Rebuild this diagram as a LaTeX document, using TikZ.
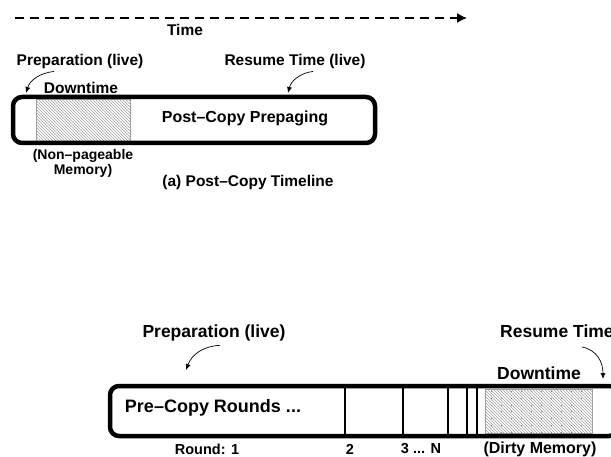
\documentclass[tikz,border=0pt]{standalone}
\usepackage{fontspec}
\setmainfont{Liberation Sans}
\usetikzlibrary{patterns,arrows.meta}
\tikzset{
  lbl/.style={font=\bfseries\fontsize{15.5}{17}\selectfont, inner sep=0pt},
  biglbl/.style={font=\bfseries\fontsize{17.5}{20}\selectfont, inner sep=0pt},
  smalllbl/.style={font=\bfseries\fontsize{14}{15}\selectfont, inner sep=0pt, align=center},
  bar/.style={line width=4.5pt, rounded corners=9pt},
  divider/.style={line width=2.2pt},
  hatch/.style={pattern=north west lines, pattern color=gray!75, draw=gray!75, line width=0.6pt},
  pointer/.style={-{Latex[length=6pt,width=5pt]}, line width=0.7pt},
}
\begin{document}
\begin{tikzpicture}[x=1pt,y=-1pt]
    \useasboundingbox (0,0) rectangle (611,457);
    \clip (0,0) rectangle (611,457);
    % time axis
    \coordinate (t0) at (15,18);
    \coordinate (t1) at (467,18);
    \draw[dash pattern=on 9pt off 6pt, line width=1.4pt, -{Latex[length=10pt,width=10pt]}] (t0) -- (t1);
    \node[lbl] (time) at (185,30) {Time};

    % (a) post-copy
    \node[lbl] (prepA) at (80,61) {Preparation (live)};
    \node[lbl] (downA) at (81,88) {Downtime};
    \node[lbl] (resA) at (295,61) {Resume Time (live)};
    \coordinate (prepAend) at (26,93);
    \coordinate (resAend) at (288,93);
    \draw[pointer] ([xshift=-26pt,yshift=-3pt]prepA.south) .. controls (40,73) and (30,80) .. (prepAend);
    \draw[pointer] ([xshift=18pt,yshift=-3pt]resA.south) .. controls (300,73) and (291,81) .. (resAend);
    \coordinate (hA0) at (36,99);
    \coordinate (hA1) at (130,141);
    \draw[hatch] (hA0) rectangle (hA1);
    \coordinate (boxA0) at (13,97);
    \coordinate (boxA1) at (375,143);
    \draw[bar] (boxA0) rectangle (boxA1);
    \node[lbl, font=\bfseries\fontsize{16}{18}\selectfont] (postcopy) at (245,118) {Post--Copy Prepaging};
    \node[smalllbl] (nonpage) at (83,163) {(Non--pageable\\Memory)};
    \node[lbl] (capA) at (248,182) {(a) Post--Copy Timeline};

    % (b) pre-copy
    \node[biglbl] (prepB) at (214,333) {Preparation (live)};
    \node[biglbl, anchor=west] (resB) at (500,333) {Resume Time (live)};
    \node[biglbl] (downB) at (539,373) {Downtime};
    \coordinate (prepBend) at (186,370);
    \coordinate (resBend) at (603,379);
    \draw[pointer] ([xshift=6pt,yshift=-4pt]prepB.south) .. controls (204,346) and (192,354) .. (prepBend);
    \draw[pointer] (582,347) .. controls (597,350) and (603,362) .. (resBend);
    \coordinate (hB0) at (485,389);
    \coordinate (hB1) at (592,433);
    \draw[hatch] (hB0) rectangle (hB1);
    \foreach \x in {491,501,...,586}
        \draw[gray, line width=0.7pt, dash pattern=on 0.8pt off 6pt] (\x,391) -- (\x,432);
    \coordinate (boxB0) at (110,386);
    \coordinate (boxB1) at (618,436);
    \foreach \x in {345,403,448,467,477}
        \draw[divider] (\x,386) -- (\x,436);
    \draw[bar] (boxB0) rectangle (boxB1);
    \node[biglbl, font=\bfseries\fontsize{18}{20}\selectfont] (precopy) at (213,408) {Pre--Copy Rounds ...};
    \node[smalllbl, font=\bfseries\fontsize{14.5}{16}\selectfont] (r1) at (207,449) {Round: 1};
    \node[smalllbl, font=\bfseries\fontsize{14.5}{16}\selectfont] (r2) at (350,449) {2};
    \node[smalllbl, font=\bfseries\fontsize{14.5}{16}\selectfont] (rN) at (421,449) {3 ... N};
    \node[smalllbl, font=\bfseries\fontsize{16}{18}\selectfont] (dirty) at (540,449) {(Dirty Memory)};
\end{tikzpicture}
\end{document}
